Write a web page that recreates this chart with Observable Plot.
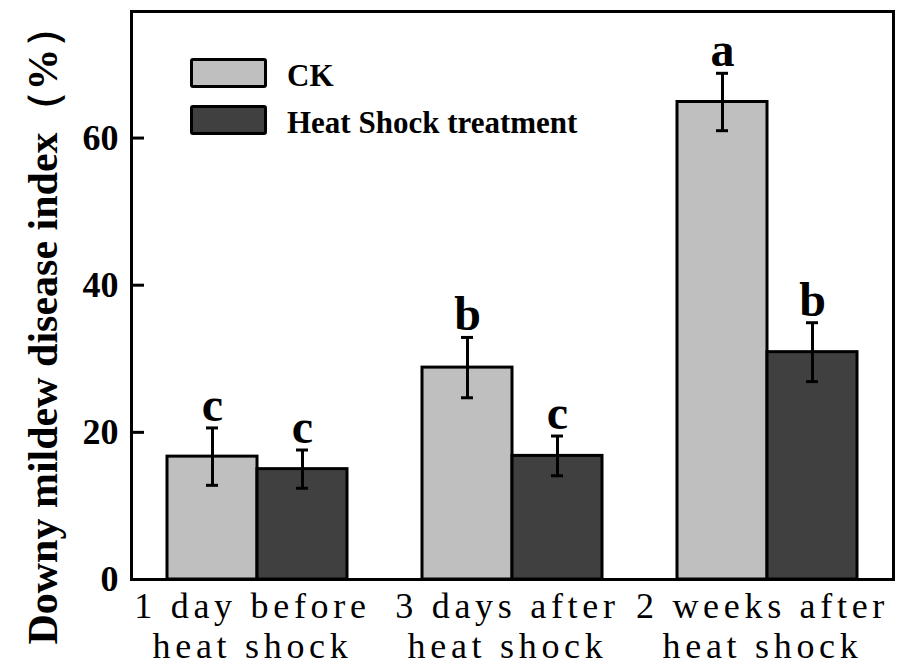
<!DOCTYPE html>
<html>
<head>
<meta charset="utf-8">
<script src="https://cdn.jsdelivr.net/npm/d3@7"></script>
<script src="https://cdn.jsdelivr.net/npm/@observablehq/plot@0.6"></script>
<style>
  html, body { margin: 0; padding: 0; background: white; }
  #wrap { position: relative; width: 903px; height: 664px; }
  g[aria-label="x-axis tick label"] { letter-spacing: 4.7px; }
  #legend { position: absolute; left: 190px; top: 58px; font-family: "Liberation Serif", serif; font-weight: bold; font-size: 31px; color: black; }
  .row { display: flex; align-items: center; height: 30px; margin-bottom: 17px; }
  .sw { box-sizing: border-box; width: 77px; height: 30px; border: 3px solid black; border-radius: 3px; margin-right: 20px; }
  .lab { position: relative; top: 3px; white-space: nowrap; }
</style>
</head>
<body>
<div id="wrap"></div>
<script>
// ---- data ----
const groups = ["1 day before\nheat shock", "3 days after\nheat shock", "2 weeks after\nheat shock"];
const series = ["CK", "Heat Shock treatment"];
const seriesColors = ["#bfbfbf", "#404040"];
const ckValues = [16.7, 28.8, 64.9];
const ckErrors = [3.9, 4.1, 3.9];
const ckLetters = ["c", "b", "a"];
const hsValues = [15.0, 16.8, 30.9];
const hsErrors = [2.6, 2.7, 4.0];
const hsLetters = ["c", "c", "b"];
const yTicks = [0, 20, 40, 60];
const yLabel = "Downy mildew disease index（%）";

const ck = groups.map((g, i) => ({group: g, series: series[0], value: ckValues[i], err: ckErrors[i], letter: ckLetters[i]}));
const hs = groups.map((g, i) => ({group: g, series: series[1], value: hsValues[i], err: hsErrors[i], letter: hsLetters[i]}));

const W = 903, H = 664, mL = 131, mR = 10, mT = 11, mB = 85;
const plotW = W - mL - mR;
const half = 90, q = 45, cap = 6;

const chart = Plot.plot({
  width: W, height: H,
  marginLeft: mL, marginRight: mR, marginTop: mT, marginBottom: mB,
  style: {fontFamily: "Liberation Serif, serif", fontWeight: "bold", fontSize: "36px", background: "white", color: "black", overflow: "visible"},
  x: {domain: groups, paddingInner: 0.295, paddingOuter: 0.14},
  y: {domain: [0, 77.2]},
  color: {domain: series, range: seriesColors},
  marks: [
    Plot.barY(ck, {x: "group", y: "value", fill: "series", stroke: "black", strokeWidth: 3, insetRight: half}),
    Plot.barY(hs, {x: "group", y: "value", fill: "series", stroke: "black", strokeWidth: 3, insetLeft: half}),
    Plot.ruleX(ck, {x: "group", y1: d => d.value - d.err, y2: d => d.value + d.err, dx: -q, strokeWidth: 3}),
    Plot.ruleX(hs, {x: "group", y1: d => d.value - d.err, y2: d => d.value + d.err, dx: q, strokeWidth: 3}),
    Plot.tickY(ck, {x: "group", y: d => d.value + d.err, insetLeft: q - cap, insetRight: 2 * half - q - cap, strokeWidth: 3}),
    Plot.tickY(ck, {x: "group", y: d => d.value - d.err, insetLeft: q - cap, insetRight: 2 * half - q - cap, strokeWidth: 3}),
    Plot.tickY(hs, {x: "group", y: d => d.value + d.err, insetLeft: 2 * half - q - cap, insetRight: q - cap, strokeWidth: 3}),
    Plot.tickY(hs, {x: "group", y: d => d.value - d.err, insetLeft: 2 * half - q - cap, insetRight: q - cap, strokeWidth: 3}),
    Plot.text(ck, {x: "group", y: d => d.value + d.err, text: "letter", dx: -q, dy: -7, lineAnchor: "bottom", fontSize: 48, fontWeight: "bold"}),
    Plot.text(hs, {x: "group", y: d => d.value + d.err, text: "letter", dx: q, dy: -7, lineAnchor: "bottom", fontSize: 48, fontWeight: "bold"}),
    Plot.tickY(yTicks, {y: d => d, insetRight: plotW - 13, strokeWidth: 3}),
    Plot.axisY({ticks: yTicks, tickSize: 0, tickPadding: 13, label: null, fontSize: 36, fontWeight: "bold"}),
    Plot.axisX({tickSize: 0, tickPadding: 10, label: null, fontSize: 36, fontWeight: "normal", lineHeight: 1.11, dx: -5}),
    Plot.text([yLabel], {frameAnchor: "left", text: d => d, rotate: -90, textAnchor: "middle", dx: -75, dy: 30, lineAnchor: "bottom", fontSize: 42, fontWeight: "bold"}),
    Plot.frame({stroke: "black", strokeWidth: 3})
  ]
});

const wrap = document.getElementById("wrap");
wrap.appendChild(chart);

// legend (inside plot area, top-left)
const legend = document.createElement("div");
legend.id = "legend";
series.forEach((s, i) => {
  const row = document.createElement("div");
  row.className = "row";
  const sw = document.createElement("div");
  sw.className = "sw";
  sw.style.background = seriesColors[i];
  const lab = document.createElement("span");
  lab.className = "lab";
  lab.textContent = s;
  row.appendChild(sw);
  row.appendChild(lab);
  legend.appendChild(row);
});
wrap.appendChild(legend);
</script>
</body>
</html>
